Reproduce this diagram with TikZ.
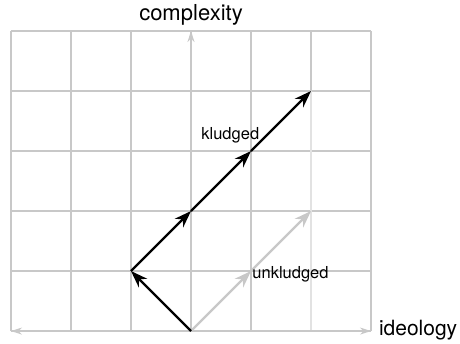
\documentclass[tikz,border=0pt]{standalone}
\usepackage{fontspec}
\setmainfont{TeX Gyre Heros}
\usetikzlibrary{arrows.meta,positioning}
\definecolor{gridgrey}{HTML}{C8C8C8}
\definecolor{palegrey}{HTML}{E2E2E2}

\begin{document}
\begin{tikzpicture}[x=60pt,y=60pt,
    gridline/.style={gridgrey, line width=1.2pt},
    axis/.style={gridgrey, line width=1.2pt},
    kludge/.style={black, line width=2.2pt, -{Stealth[length=17pt,width=12pt]}},
    unkludge/.style={gridgrey, line width=2.2pt, -{Stealth[length=17pt,width=12pt]}},
    axislabel/.style={font=\fontsize{22}{26}\selectfont, inner sep=0pt},
    pathlabel/.style={font=\fontsize{16.5}{20}\selectfont, inner sep=0pt}]
    \useasboundingbox (-3.183,-0.2) rectangle (4.483,5.517);

    % Background grid
    \draw[gridline, step=60pt] (-3,0) grid (3,5);
    \draw[palegrey, line width=2pt] (2,0) -- (2,4);

    % Axes
    \coordinate (o) at (0,0);
    \coordinate (xl) at (-3,0);
    \coordinate (xr) at (3,0);
    \coordinate (yt) at (0,5);
    \draw[axis, {Stealth[length=11pt,width=7pt]}-{Stealth[length=11pt,width=7pt]}] (xl) -- (xr);
    \draw[axis, -{Stealth[length=11pt,width=7pt]}] (o) -- (yt);
    \node[axislabel, anchor=base] (cx) at (0,5.17) {complexity};
    \node[axislabel, anchor=base west, font=\fontsize{21}{25}\selectfont] (id) at (3.13,-0.07) {ideology};

    % Unkludged path
    \coordinate (u1) at (1,1);
    \coordinate (u2) at (2,2);
    \draw[unkludge] (o) -- (u1);
    \draw[unkludge] (u1) -- (u2);
    \node[pathlabel, anchor=base west] (ul) at (1.02,0.87) {unkludged};

    % Kludged path
    \coordinate (k1) at (-1,1);
    \coordinate (k2) at (0,2);
    \coordinate (k3) at (1,3);
    \coordinate (k4) at (2,4);
    \draw[kludge] (o) -- (k1);
    \draw[kludge] (k1) -- (k2);
    \draw[kludge] (k2) -- (k3);
    \draw[kludge] (k3) -- (k4);
    \node[pathlabel, anchor=base west] (kl) at (0.17,3.2) {kludged};
\end{tikzpicture}
\end{document}
